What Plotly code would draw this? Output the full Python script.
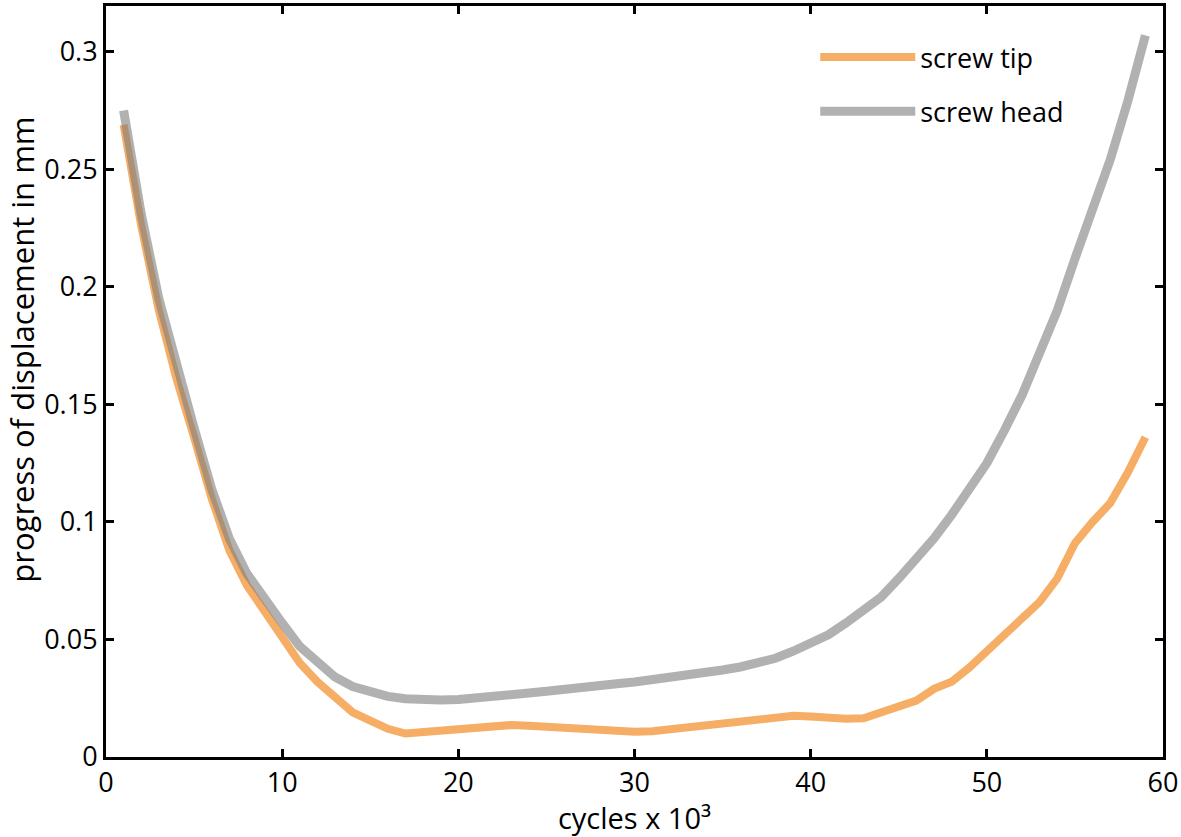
import plotly.graph_objects as go

# cycles (x 10^3)
cycles = list(range(1, 60))

# progress of displacement in mm
screw_tip = [0.269, 0.226, 0.190, 0.161, 0.136, 0.110, 0.088, 0.073, 0.062, 0.051,
             0.040, 0.032, 0.026, 0.019, 0.0155, 0.012, 0.010, 0.0105, 0.0115, 0.0122,
             0.0128, 0.0133, 0.0136, 0.0133, 0.0128, 0.0122, 0.0115, 0.011, 0.0107, 0.0107,
             0.011, 0.0118, 0.0126, 0.0135, 0.0143, 0.015, 0.016, 0.017, 0.0175, 0.0172,
             0.0165, 0.0163, 0.0165, 0.019, 0.0215, 0.024, 0.029, 0.032, 0.038, 0.045,
             0.052, 0.059, 0.066, 0.076, 0.091, 0.100, 0.108, 0.121, 0.136]

screw_head = [0.275, 0.231, 0.195, 0.166, 0.140, 0.114, 0.093, 0.078, 0.067, 0.057,
              0.047, 0.040, 0.034, 0.030, 0.0275, 0.0258, 0.0248, 0.0243, 0.0242, 0.0245,
              0.025, 0.0257, 0.0265, 0.0272, 0.028, 0.029, 0.0298, 0.0305, 0.0312, 0.0319,
              0.0328, 0.0337, 0.0347, 0.0358, 0.037, 0.0383, 0.040, 0.042, 0.045, 0.048,
              0.052, 0.057, 0.0625, 0.068, 0.076, 0.084, 0.093, 0.103, 0.114, 0.125,
              0.139, 0.154, 0.172, 0.190, 0.212, 0.232, 0.254, 0.279, 0.307]

font = "Open Sans"

fig = go.Figure()
fig.add_trace(go.Scatter(x=cycles, y=screw_tip, mode="lines", name="screw tip",
                         legendgroup="tip",
                         line=dict(color="#F6AE66", width=8)))
fig.add_trace(go.Scatter(x=cycles, y=screw_head, mode="lines", name="screw head",
                         legendgroup="head",
                         line=dict(color="rgba(125,125,125,0.6)", width=9)))

axis_style = dict(showline=True, linecolor="black", linewidth=3, mirror="ticks",
                  ticks="inside", ticklen=8, tickwidth=3, tickcolor="black",
                  showgrid=False, zeroline=False,
                  tickfont=dict(family=font, size=27, color="black"))

fig.update_xaxes(range=[0, 60], dtick=10, **axis_style,
                 title=dict(text="cycles x 10³", standoff=2,
                            font=dict(family=font, size=29, color="black")))
fig.update_yaxes(range=[0, 0.3195], tickvals=[0, 0.05, 0.1, 0.15, 0.2, 0.25, 0.3],
                 ticktext=["0", "0.05", "0.1", "0.15", "0.2", "0.25", "0.3"], **axis_style)

# y title sits a bit above the plot centre in the original, so place it by hand
fig.add_annotation(text="progress of displacement in mm", textangle=-90,
                   xref="paper", yref="paper", x=-0.079, y=0.543,
                   xanchor="center", yanchor="middle", showarrow=False, borderpad=0,
                   font=dict(family=font, size=31, color="black"))

fig.update_layout(
    width=1181, height=837,
    margin=dict(l=106, r=18, t=3, b=80),
    paper_bgcolor="white", plot_bgcolor="white",
    legend=dict(x=0.671, y=0.964, xanchor="left", yanchor="top",
                font=dict(family=font, size=27, color="black"),
                itemwidth=95, tracegroupgap=16, traceorder="grouped",
                bgcolor="rgba(0,0,0,0)"),
)

fig.write_html("out.html", config={"displayModeBar": False},
               post_script="document.body.style.margin='0';")
